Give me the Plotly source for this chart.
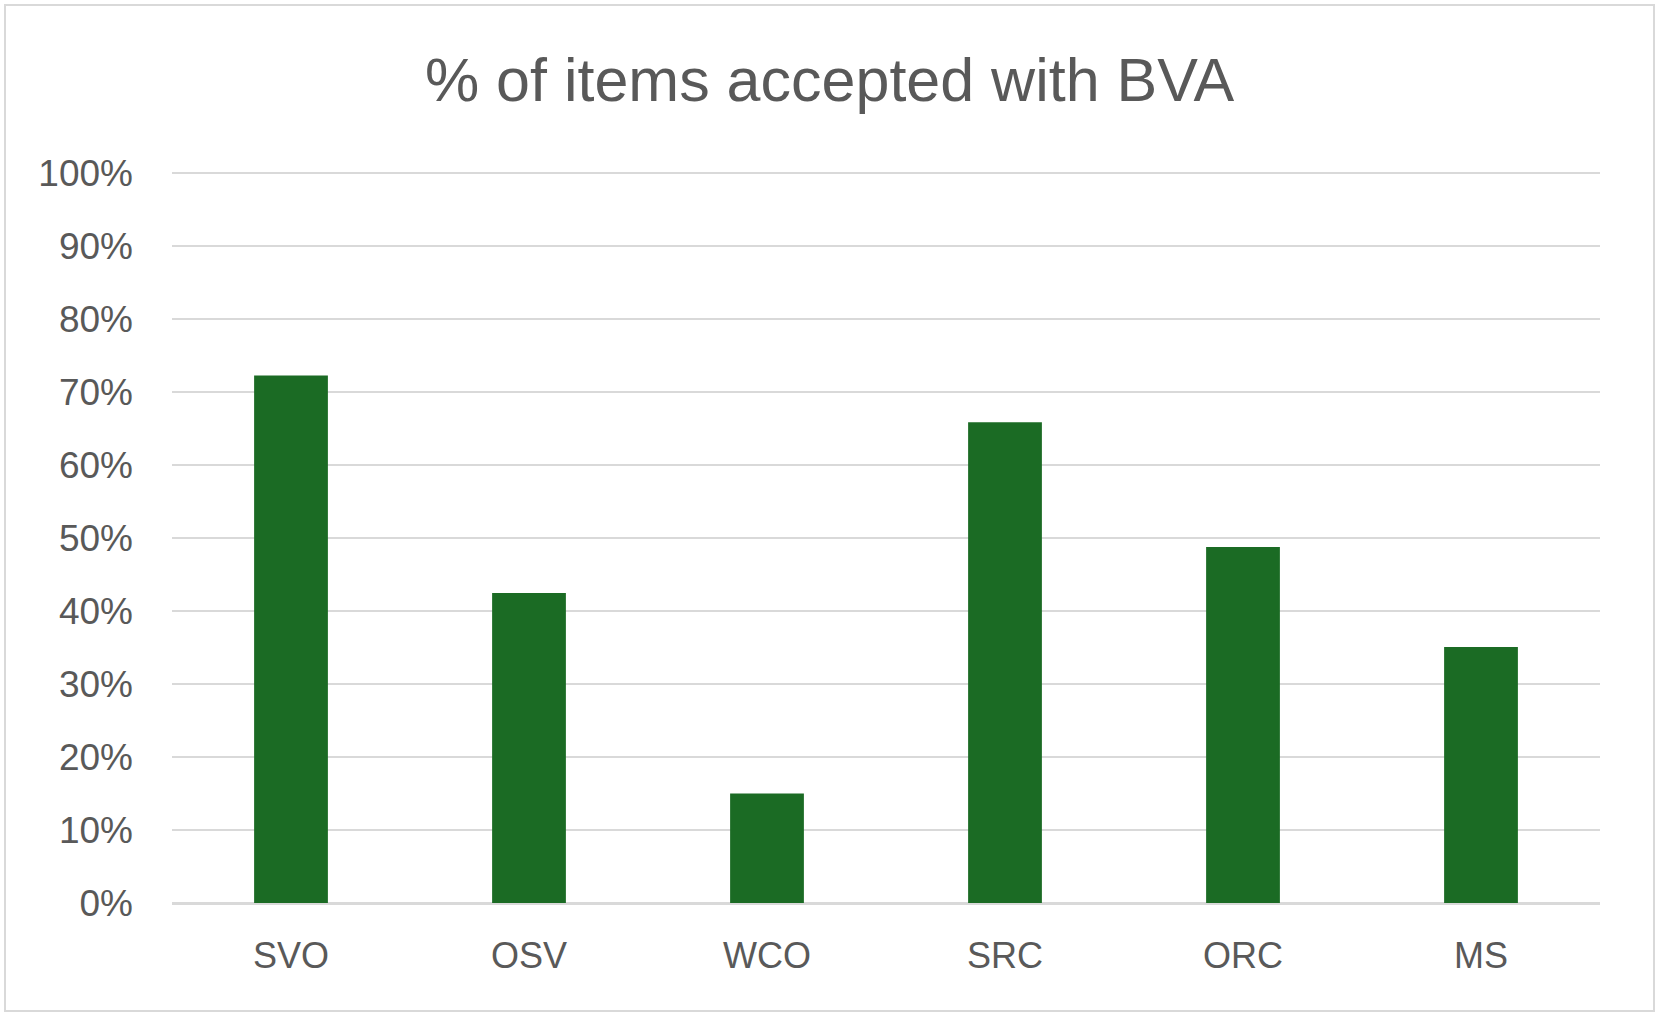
import plotly.graph_objects as go

categories = ["SVO", "OSV", "WCO", "SRC", "ORC", "MS"]
values = [0.723, 0.425, 0.150, 0.659, 0.488, 0.351]
tick_vals = [0, 0.1, 0.2, 0.3, 0.4, 0.5, 0.6, 0.7, 0.8, 0.9, 1.0]
tick_text = ["0%", "10%", "20%", "30%", "40%", "50%", "60%", "70%", "80%", "90%", "100%"]

W, H = 1659, 1017
L, R, T, B = 172, 59, 172, 114
pw, ph = W - L - R, H - T - B

fig = go.Figure()
fig.add_trace(go.Bar(
    x=categories, y=values,
    marker=dict(color="#1b6b24", line=dict(width=0)),
    width=0.31,
))

def px2x(p):
    return (p - L) / pw

def py2y(p):
    return (H - B - p) / ph

fig.update_layout(
    width=W, height=H,
    margin=dict(l=L, r=R, t=T, b=B),
    paper_bgcolor="white", plot_bgcolor="white",
    font=dict(family="Liberation Sans, Arial, sans-serif", color="#595959"),
    title=dict(text="% of items accepted with BVA", x=0.5, xanchor="center",
               y=1 - 80 / H, yanchor="middle", font=dict(size=61, color="#595959")),
    xaxis=dict(showgrid=False, showline=False, ticks="", tickfont=dict(size=36, color="#595959"),
               ticklabelstandoff=28),
    yaxis=dict(range=[0, 1.002], tickvals=tick_vals, ticktext=tick_text,
               showgrid=True, gridcolor="#d9d9d9", gridwidth=2,
               zeroline=True, zerolinecolor="#d9d9d9", zerolinewidth=3,
               showline=False, ticks="", tickfont=dict(size=37, color="#595959"),
               ticklabelstandoff=38),
    showlegend=False,
    bargap=0.69,
    shapes=[dict(type="rect", xref="paper", yref="paper",
                 x0=px2x(5), x1=px2x(1654), y0=py2y(1011), y1=py2y(5),
                 line=dict(color="#d9d9d9", width=2), fillcolor="rgba(0,0,0,0)", layer="below")],
)

fig.write_html("out.html", config={"displayModeBar": False},
               post_script="document.body.style.margin='0';")
